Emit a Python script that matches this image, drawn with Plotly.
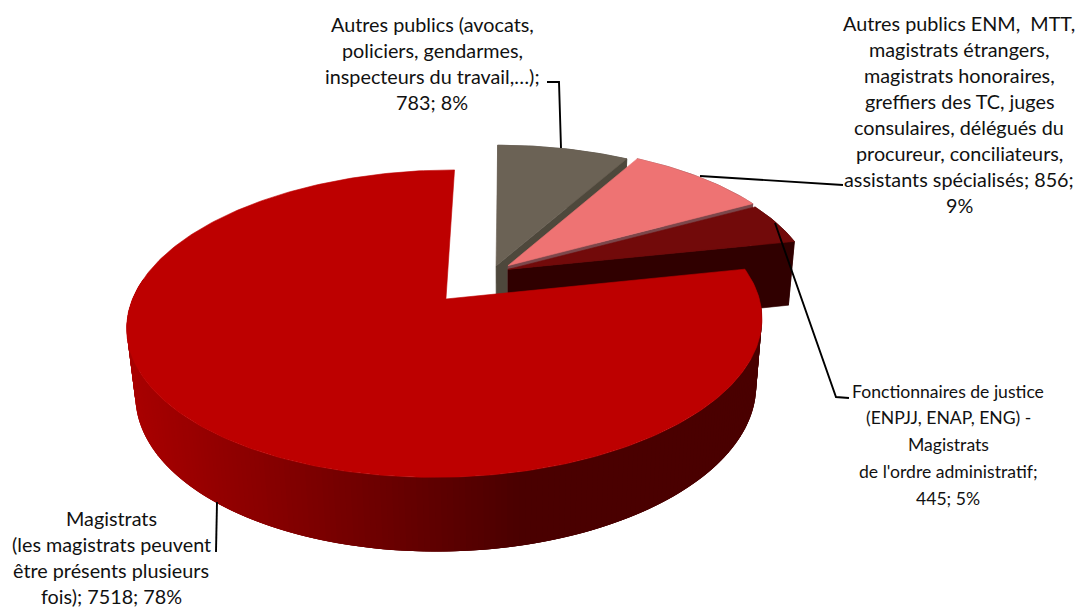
import numpy as np
import plotly.graph_objects as go

# Audience counts, in clockwise order starting at twelve o'clock
categories = [
    "Autres publics (avocats, policiers, gendarmes, inspecteurs du travail,…)",
    "Autres publics ENM, MTT, magistrats étrangers, magistrats honoraires, greffiers des TC, juges consulaires, délégués du procureur, conciliateurs, assistants spécialisés",
    "Fonctionnaires de justice (ENPJJ, ENAP, ENG) - Magistrats de l'ordre administratif",
    "Magistrats (les magistrats peuvent être présents plusieurs fois)",
]
values = [783, 856, 445, 7518]

top_colors = ["#6b6255", "#ee7373", "#720a0a", "#bd0000"]
cut_colors = ["#4e483c", "#7c474b", "#300000", None]

# Displacement and horizontal radius of each slice in the plane of the pie
explode_u = [-0.04, 0.0, 0.0, -0.2]
explode_v = [0.015, 0.017, -0.01, -0.214]
radius_u = [1.0, 1.0, 1.005, 1.01]

total = sum(values)
pct = [round(100 * v / total) for v in values]

# Perspective camera: pie plane to page pixels
CX, CY = 508.0, 268.0
SCALE_X, SCALE_Y = 300.0, 140.0
PERSP = 0.155
DEPTH_PERSP = 0.022
DEPTH = 66.5


def top_face(u, v):
    d = 1 + PERSP * v
    return CX + SCALE_X * u / d, CY - SCALE_Y * v / d


def bottom_face(u, v):
    d = 1 + PERSP * v + DEPTH_PERSP
    return CX + SCALE_X * u / d, CY + (DEPTH - SCALE_Y * v) / d


def polygon(xs, ys, color, name=None, edge=0.6):
    return go.Scatter(
        x=xs, y=ys, mode="lines", fill="toself", fillcolor=color,
        line=dict(color=color, width=edge), hoverinfo="skip",
        showlegend=False, name=name,
    )


def wall_color(x):
    # Side wall shading runs from bright on the left to dark on the right
    t = np.clip((x - 130) / (520 - 130), 0, 1)
    return f"rgb({int(round(168 + (74 - 168) * t))},0,0)"


fig = go.Figure()
edges = 2 * np.pi * np.concatenate([[0], np.cumsum(values)]) / total

for i, name in enumerate(categories):
    th = np.linspace(edges[i], edges[i + 1], max(12, int(values[i] / 25)))
    u = explode_u[i] + radius_u[i] * np.sin(th)
    v = explode_v[i] + np.cos(th)
    au, av = explode_u[i], explode_v[i]
    xt, yt = top_face(u, v)
    xb, yb = bottom_face(u, v)

    if i == 3:
        # Front wall, painted in overlapping strips so the shading stays smooth
        front = np.where(np.cos(th) < 0.15)[0]
        for k in front[:-1]:
            m = min(k + 3, front[-1])
            fig.add_trace(polygon(
                [xt[k], xt[m], xb[m], xb[k], xt[k]],
                [yt[k], yt[m], yb[m], yb[k], yt[k]],
                wall_color(0.5 * (xt[k] + xt[k + 1])), edge=0,
            ))
    else:
        ax_t, ay_t = top_face(au, av)
        ax_b, ay_b = bottom_face(au, av)
        # Outer wall
        fig.add_trace(polygon(
            list(xt) + list(xb[::-1]) + [xt[0]],
            list(yt) + list(yb[::-1]) + [yt[0]],
            cut_colors[i],
        ))
        # Wall along the trailing cut of the slice
        fig.add_trace(polygon(
            [ax_t, xt[-1], xb[-1], ax_b, ax_t],
            [ay_t, yt[-1], yb[-1], ay_b, ay_t],
            cut_colors[i],
        ))

    xa, ya = top_face(au, av)
    fig.add_trace(polygon(
        [xa] + list(xt) + [xa], [ya] + list(yt) + [ya], top_colors[i], name,
    ))

# Leader lines between slices and their labels
leaders = [
    ([547, 559, 561], [82, 82, 148]),
    ([700, 843], [176, 185]),
    ([775, 836, 849], [223, 397, 398]),
    ([217, 216], [502, 552]),
]
for lx, ly in leaders:
    fig.add_trace(go.Scatter(
        x=lx, y=ly, mode="lines", line=dict(color="#000000", width=1.9),
        hoverinfo="skip", showlegend=False,
    ))

# Label text, line by line
label_lines = [
    ["Autres publics (avocats,", "policiers, gendarmes,",
     "inspecteurs du travail,…);", f"{values[0]}; {pct[0]}%"],
    ["Autres publics ENM,  MTT,", "magistrats étrangers,", "magistrats honoraires,",
     "greffiers des TC, juges", "consulaires, délégués du", "procureur, conciliateurs,",
     f"assistants spécialisés; {values[1]};", f"{pct[1]}%"],
    ["Fonctionnaires de justice", "(ENPJJ, ENAP, ENG) -", "Magistrats",
     "de l'ordre administratif;", f"{values[2]}; {pct[2]}%"],
    ["Magistrats", "(les magistrats peuvent", "être présents plusieurs",
     f"fois); {values[3]}; {pct[3]}%"],
]
label_center = [432, 959, 948, 111]
label_first_y = [24, 23, 391, 518]
label_step = [26, 26, 26.8, 26]
label_size = [19.8, 19.8, 17.6, 19.8]

annotations = []
for lines, cx, y0, step, size in zip(label_lines, label_center, label_first_y, label_step, label_size):
    for j, line in enumerate(lines):
        annotations.append(dict(
            x=cx, y=y0 + j * step, xref="x", yref="y", text=line.replace("  ", "&nbsp; "),
            showarrow=False, xanchor="center", yanchor="middle",
            font=dict(family="Lato", size=size, color="#111111"),
        ))

fig.update_layout(
    width=1077, height=608, margin=dict(l=0, r=0, t=0, b=0),
    paper_bgcolor="white", plot_bgcolor="white",
    xaxis=dict(range=[0, 1077], visible=False, fixedrange=True),
    yaxis=dict(range=[608, 0], visible=False, fixedrange=True),
    annotations=annotations, showlegend=False,
)
fig.write_html("out.html")
